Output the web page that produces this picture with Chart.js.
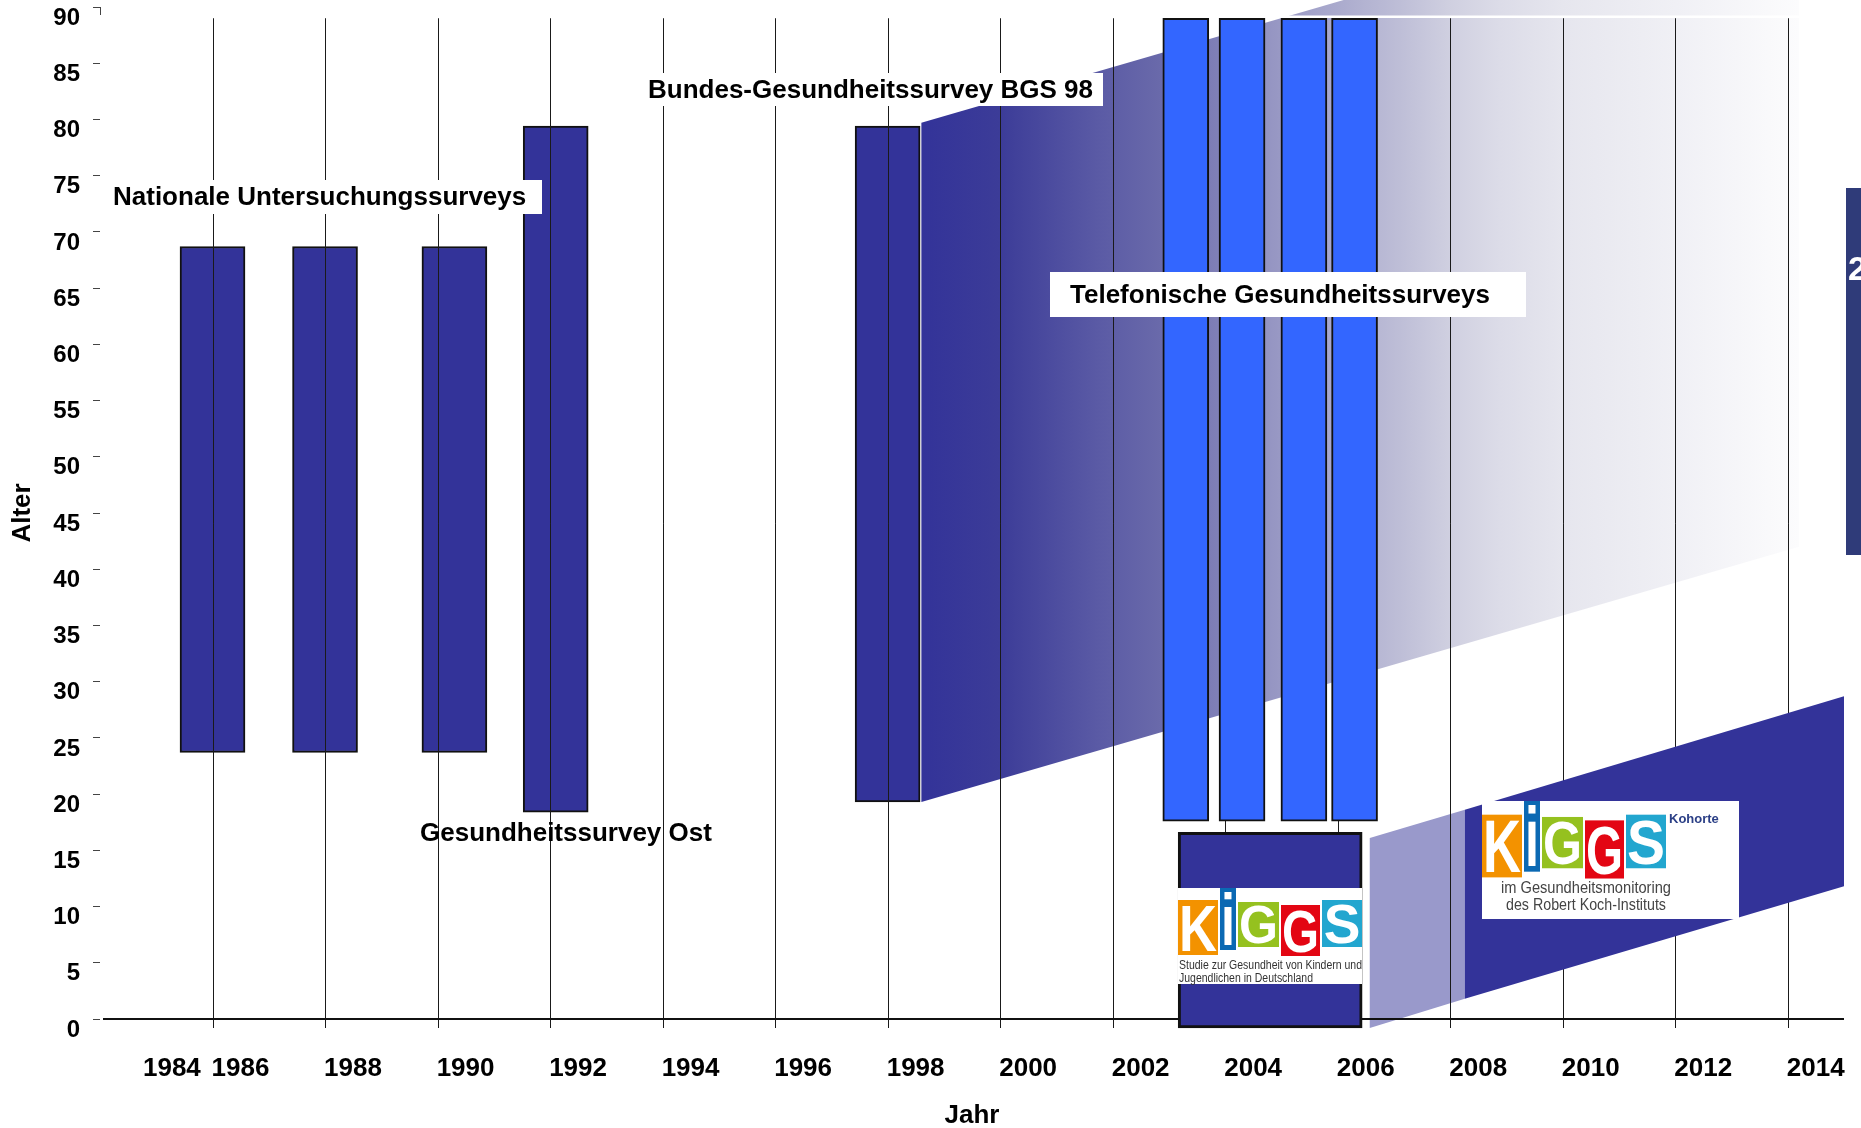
<!DOCTYPE html>
<html>
<head>
<meta charset="utf-8">
<script src="https://cdn.jsdelivr.net/npm/chart.js@4.4.0/dist/chart.umd.min.js"></script>
<style>
  html, body { margin: 0; padding: 0; background: #fff; }
  #wrap { width: 1861px; height: 1128px; position: relative; }
</style>
</head>
<body>
<div id="wrap"><canvas id="chart"></canvas></div>
<script>
// age ranges (from / to) covered by each survey, placed on the survey year
const nationalYears = [1986, 1988, 1990.3, 1992.1, 1998];
const nationalFrom = [23.7, 23.7, 23.7, 18.4, 19.3];
const nationalTo = [68.7, 68.7, 68.7, 79.4, 79.4];

const phoneYears = [2003.3, 2004.3, 2005.4, 2006.3];
const phoneFrom = [17.6, 17.6, 17.6, 17.6];
const phoneTo = [89, 89, 89, 89];

const kiggsYears = [2004.8];
const kiggsFrom = [-0.8];
const kiggsTo = [16.6];

const xTickValues = [1984.78, 1986, 1988, 1990, 1992, 1994, 1996, 1998, 2000, 2002, 2004, 2006, 2008, 2010, 2012, 2014];
const xTickLabels = ['1984', '1986', '1988', '1990', '1992', '1994', '1996', '1998', '2000', '2002', '2004', '2006', '2008', '2010', '2012', '2014'];
const gridYears = xTickValues.filter(v => Number.isInteger(v));

// trend bands as [year, age] corners
const bgsBand = [[1998.6, 79.7], [2014.2, 102.4], [2014.2, 42.0], [1998.6, 19.3]];
const kohorteLight = [[2006.57, 16.1], [2008.26, 18.6], [2008.26, 1.8], [2006.57, -0.8]];
const kohorteDark = [[2008.26, 18.6], [2015, 28.7], [2015, 11.8], [2008.26, 1.8]];

const FONT = '"Liberation Sans", Arial, Helvetica, sans-serif';

const toBars = (xs, lo, hi) => xs.map((x, i) => ({ x: x, y: [lo[i], hi[i]] }));

function toPx(chart, p) {
    return [chart.scales.x.getPixelForValue(p[0]), chart.scales.y.getPixelForValue(p[1])];
}

function fillPoly(ctx, chart, pts, style) {
    ctx.beginPath();
    pts.forEach((p, i) => {
        const [x, y] = toPx(chart, p);
        if (i) ctx.lineTo(x, y); else ctx.moveTo(x, y);
    });
    ctx.closePath();
    ctx.fillStyle = style;
    ctx.fill();
}

function labelBox(ctx, text, x, y, w, h, padLeft) {
    if (w > 0) {
        ctx.fillStyle = '#fff';
        ctx.fillRect(x, y, w, h);
    }
    ctx.fillStyle = '#000';
    ctx.font = 'bold 26px ' + FONT;
    ctx.textBaseline = 'middle';
    ctx.textAlign = 'left';
    ctx.fillText(text, x + padLeft, y + h / 2 + 1);
}

// letter blocks of the KiGGS logo: letter, colour, x, y, w, h (relative to logo corner)
const LOGO_BLOCKS = [
    ['K', '#f39200', 0, 12, 40, 55],
    ['i', '#0b69b3', 42, 0, 16, 62],
    ['G', '#95c11f', 60, 14, 41, 45],
    ['G', '#e30613', 103, 17, 39, 51],
    ['S', '#22a6cf', 144, 12, 40, 47]
];

function drawLogo(ctx, x0, y0, sy) {
    LOGO_BLOCKS.forEach(([ch, col, bx, by, bw, bh]) => {
        const top = y0 + by * sy, h = bh * sy;
        ctx.fillStyle = col;
        ctx.fillRect(x0 + bx, top, bw, h);
        ctx.fillStyle = '#fff';
        ctx.font = 'bold ' + Math.round(h * 1.18) + 'px ' + FONT;
        ctx.textAlign = 'center';
        ctx.textBaseline = 'alphabetic';
        ctx.fillText(ch, x0 + bx + bw / 2, top + h * 0.92, bw - 2);
    });
}

const surveyShapes = {
    id: 'surveyShapes',
    beforeDatasetsDraw(chart) {
        const ctx = chart.ctx;
        const xs = chart.scales.x;
        ctx.save();
        // fading band after BGS 98
        const gx0 = xs.getPixelForValue(bgsBand[0][0]);
        const gx1 = xs.getPixelForValue(bgsBand[1][0]);
        const grad = ctx.createLinearGradient(gx0, 0, gx1, 0);
        [[0, '#333399'], [0.09, '#3c3c98'], [0.2, '#5a5aa5'], [0.27, '#6969aa'], [0.33, '#7d7db6'],
         [0.4, '#9696c3'], [0.465, '#a8a8cc'], [0.545, '#bebed7'], [0.6, '#cfcfe0'], [0.66, '#dcdce8'],
         [0.73, '#e6e6ee'], [0.86, '#f0f0f5'], [1, '#fcfcfd']].forEach(s => grad.addColorStop(s[0], s[1]));
        fillPoly(ctx, chart, bgsBand, grad);
        ctx.fillStyle = '#fff';
        ctx.fillRect(xs.getPixelForValue(2003.2), 15.5, xs.getPixelForValue(2014.2) - xs.getPixelForValue(2003.2), 2.5);
        fillPoly(ctx, chart, kohorteLight, '#9999cb');
        ctx.restore();
    },
    afterDatasetDraw(chart, args) {
        if (args.index !== 0) return;
        const ctx = chart.ctx;
        const xs = chart.scales.x, ys = chart.scales.y;
        ctx.save();
        ctx.strokeStyle = '#1a1a1a';
        ctx.lineWidth = 1;
        const top = ys.getPixelForValue(89), bottom = ys.getPixelForValue(0) + 9;
        gridYears.forEach(yr => {
            const x = Math.round(xs.getPixelForValue(yr)) + 0.5;
            ctx.beginPath();
            ctx.moveTo(x, top);
            ctx.lineTo(x, bottom);
            ctx.stroke();
        });
        // x axis line
        const y0 = ys.getPixelForValue(0);
        ctx.lineWidth = 2;
        ctx.strokeStyle = '#111';
        ctx.beginPath();
        ctx.moveTo(chart.chartArea.left + 3, y0);
        ctx.lineTo(chart.chartArea.right, y0);
        ctx.stroke();
        // stub of the y axis at the top
        ctx.lineWidth = 1;
        ctx.strokeStyle = '#444';
        ctx.beginPath();
        ctx.moveTo(chart.chartArea.left + 0.5, ys.getPixelForValue(90));
        ctx.lineTo(chart.chartArea.left + 0.5, ys.getPixelForValue(90) + 8);
        ctx.stroke();
        ctx.restore();
    },
    afterDatasetsDraw(chart) {
        const ctx = chart.ctx;
        ctx.save();
        fillPoly(ctx, chart, kohorteDark, '#333399');

        // KiGGS baseline logo inside the box
        ctx.fillStyle = '#fff';
        ctx.fillRect(1178, 888, 184, 96);
        drawLogo(ctx, 1178, 888, 1);
        ctx.fillStyle = '#333';
        ctx.font = '12px ' + FONT;
        ctx.textAlign = 'left';
        ctx.textBaseline = 'middle';
        ctx.fillText('Studie zur Gesundheit von Kindern und', 1179, 966, 183);
        ctx.fillText('Jugendlichen in Deutschland', 1179, 979, 134);

        // KiGGS Kohorte logo
        ctx.fillStyle = '#fff';
        ctx.fillRect(1482, 801, 257, 118);
        drawLogo(ctx, 1482, 801, 1.14);
        ctx.fillStyle = '#2b3f86';
        ctx.font = 'bold 13px ' + FONT;
        ctx.textAlign = 'left';
        ctx.fillText('Kohorte', 1669, 823);
        ctx.fillStyle = '#444';
        ctx.font = '16px ' + FONT;
        ctx.textAlign = 'center';
        ctx.fillText('im Gesundheitsmonitoring', 1586, 893, 170);
        ctx.fillText('des Robert Koch-Instituts', 1586, 910, 160);

        // survey group labels
        labelBox(ctx, 'Nationale Untersuchungssurveys', 109, 180, 433, 34, 4);
        labelBox(ctx, 'Bundes-Gesundheitssurvey BGS 98', 645, 73, 458, 33, 3);
        labelBox(ctx, 'Telefonische Gesundheitssurveys', 1050, 272, 476, 45, 20);
        labelBox(ctx, 'Gesundheitssurvey Ost', 420, 816, 0, 34, 0);

        // cut-off element at the right edge
        ctx.fillStyle = '#2f3b79';
        ctx.fillRect(1846, 188, 15, 367);
        ctx.fillStyle = '#fff';
        ctx.font = 'bold 34px ' + FONT;
        ctx.textAlign = 'left';
        ctx.textBaseline = 'middle';
        ctx.fillText('2', 1848, 271);
        ctx.restore();
    }
};

Chart.defaults.font.family = FONT;
Chart.defaults.color = '#000';

new Chart(document.getElementById('chart'), {
    type: 'bar',
    data: {
        datasets: [
            {
                label: 'Nationale Untersuchungssurveys',
                data: toBars(nationalYears, nationalFrom, nationalTo),
                backgroundColor: '#333399',
                borderColor: '#111',
                borderWidth: 2,
                borderSkipped: false,
                barThickness: 65,
                grouped: false,
                order: 3
            },
            {
                label: 'Telefonische Gesundheitssurveys',
                data: toBars(phoneYears, phoneFrom, phoneTo),
                backgroundColor: '#3366ff',
                borderColor: '#111',
                borderWidth: 2,
                borderSkipped: false,
                barThickness: 46,
                grouped: false,
                order: 2
            },
            {
                label: 'KiGGS',
                data: toBars(kiggsYears, kiggsFrom, kiggsTo),
                backgroundColor: '#333399',
                borderColor: '#111',
                borderWidth: 3,
                borderSkipped: false,
                barThickness: 184,
                grouped: false,
                clip: false,
                order: 1
            }
        ]
    },
    options: {
        responsive: true,
        maintainAspectRatio: false,
        animation: false,
        layout: { autoPadding: false, padding: { top: 7, right: 17, left: 0, bottom: 0 } },
        plugins: {
            legend: { display: false },
            tooltip: { enabled: false }
        },
        scales: {
            x: {
                type: 'linear',
                min: 1984,
                max: 2015,
                offset: false,
                grid: { display: false, drawTicks: false },
                border: { display: false },
                afterBuildTicks: s => { s.ticks = xTickValues.map(v => ({ value: v })); },
                afterFit: s => { s.height = 109; s.paddingLeft = 0; s.paddingRight = 0; },
                ticks: {
                    autoSkip: false,
                    maxRotation: 0,
                    padding: 34,
                    labelOffset: 28,
                    font: { size: 26, weight: 'bold' },
                    callback: (v, i) => xTickLabels[i]
                },
                title: {
                    display: true,
                    text: 'Jahr',
                    font: { size: 26, weight: 'bold', lineHeight: 0.9 },
                    padding: { top: 0, bottom: 0 }
                }
            },
            y: {
                min: 0,
                max: 90,
                grid: { display: true, drawOnChartArea: false, drawTicks: true, tickLength: 7, color: '#444' },
                border: { display: false },
                afterFit: s => { s.width = 100; s.paddingTop = 0; s.paddingBottom = 0; },
                ticks: {
                    stepSize: 5,
                    padding: 13,
                    labelOffset: 11,
                    font: { size: 24, weight: 'bold' }
                },
                title: {
                    display: true,
                    text: 'Alter',
                    font: { size: 26, weight: 'bold' },
                    padding: { top: 7, bottom: 0 }
                }
            }
        }
    },
    plugins: [surveyShapes]
});
</script>
</body>
</html>
